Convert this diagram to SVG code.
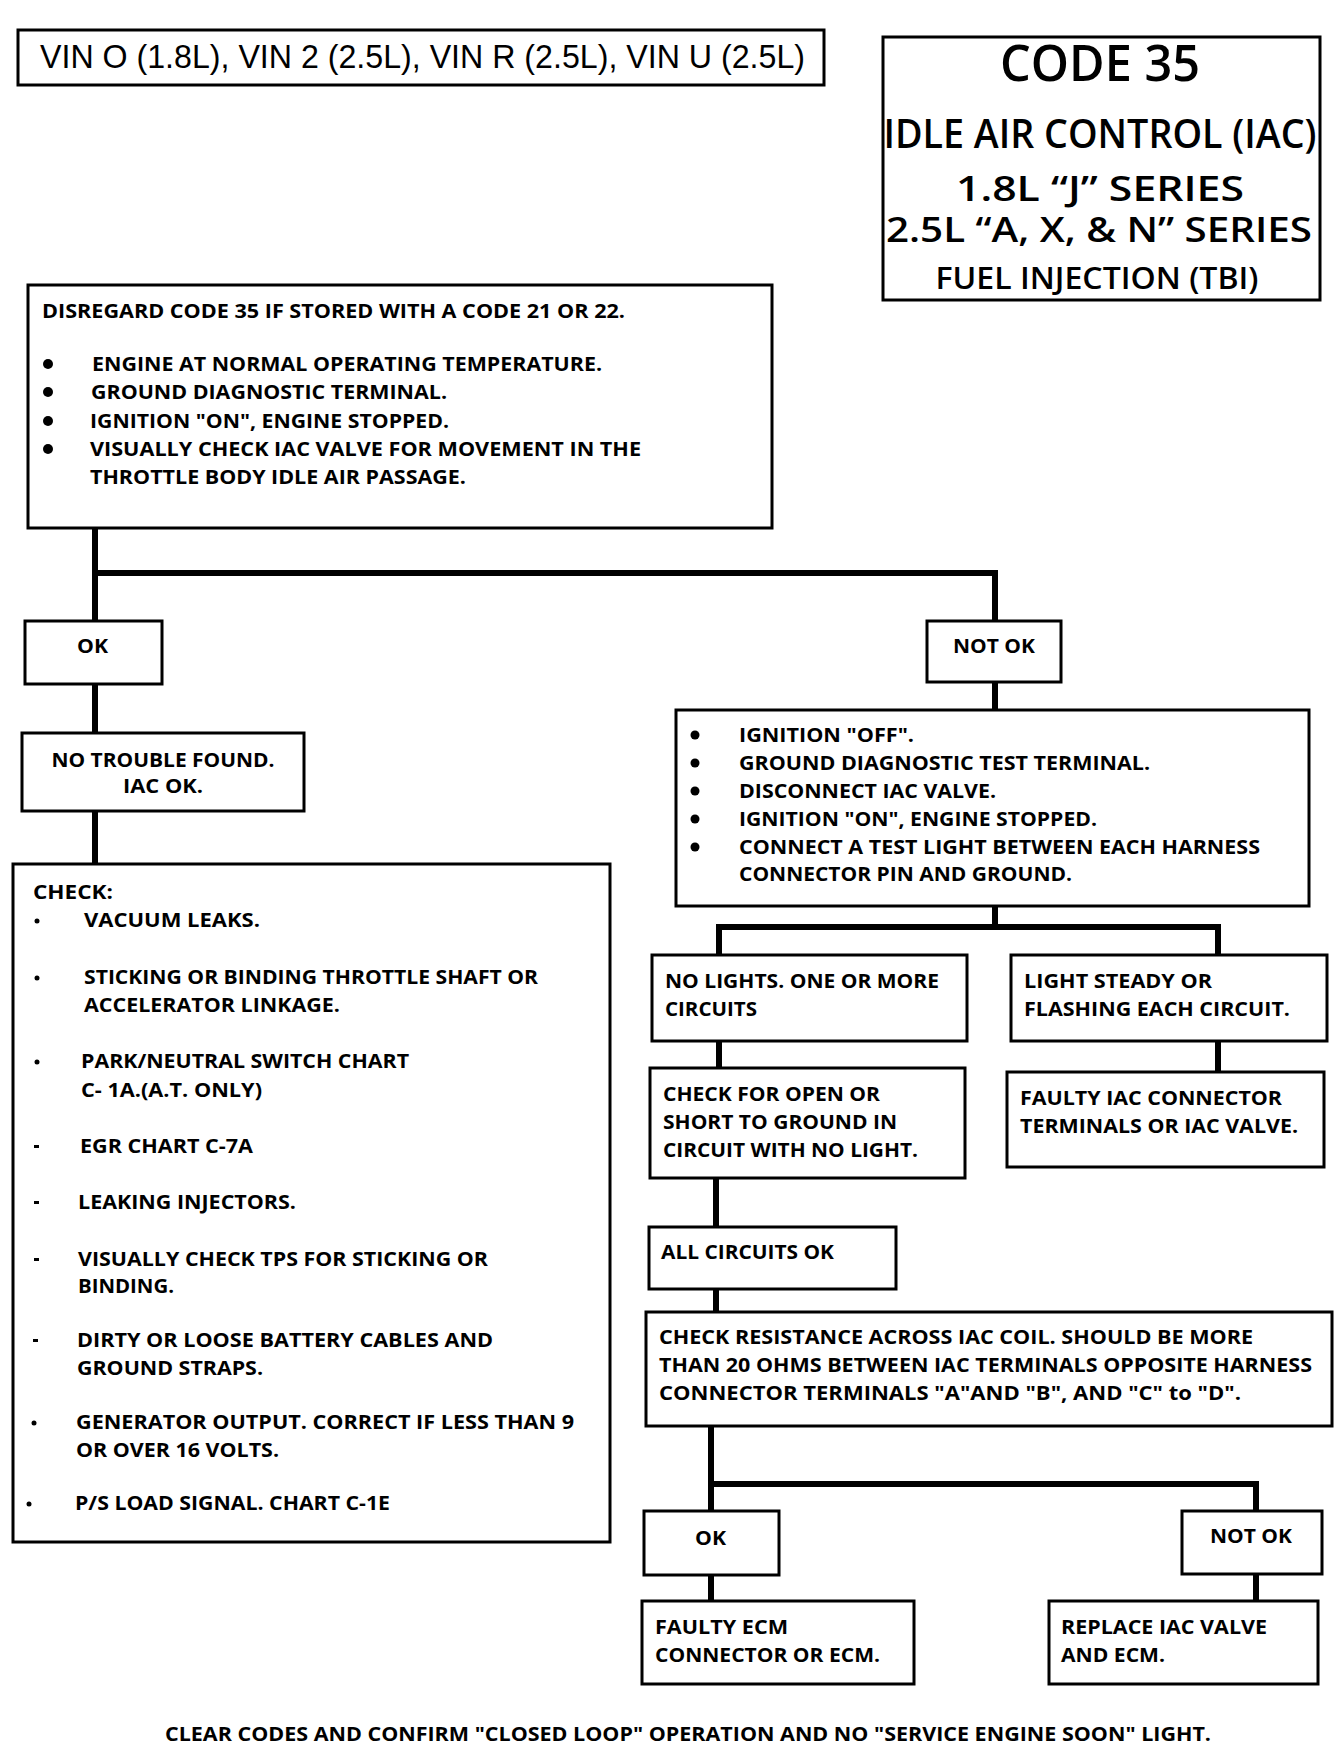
<svg xmlns="http://www.w3.org/2000/svg" width="1344" height="1748" viewBox="0 0 1344 1748">
<style>
.bg{fill:#fff}
.box{fill:#fff;stroke:#000;stroke-width:3}
.con{fill:none;stroke:#000;stroke-width:6;stroke-linecap:square}
.t{font-family:"Open Sans","Noto Sans","DejaVu Sans",sans-serif;font-weight:700;font-size:20px;fill:#000}
.h{font-family:"Open Sans","Noto Sans","DejaVu Sans",sans-serif;font-weight:600;fill:#000}
.vin{font-family:"Liberation Sans",Arial,sans-serif;font-size:33px;fill:#000}
.dot{fill:#000}
</style>
<rect class="bg" x="0" y="0" width="1344" height="1748"/>

<g id="connectors">
<path class="con" d="M95 528 V621 M95 573 H995 V621"/>
<path class="con" d="M95 684 V733"/>
<path class="con" d="M95 811 V864"/>
<path class="con" d="M995 682 V710"/>
<path class="con" d="M995 906 V927 M719 955 V927 H1218 V955"/>
<path class="con" d="M719 1041 V1068"/>
<path class="con" d="M1218 1041 V1072"/>
<path class="con" d="M716 1178 V1227"/>
<path class="con" d="M716 1289 V1312"/>
<path class="con" d="M711 1426 V1511 M711 1484 H1256 V1511"/>
<path class="con" d="M711 1575 V1601"/>
<path class="con" d="M1256 1574 V1601"/>
</g>

<g id="vin">
<rect class="box" x="18" y="30" width="806" height="55"/>
<text class="vin" x="40" y="68" textLength="765" lengthAdjust="spacingAndGlyphs">VIN O (1.8L), VIN 2 (2.5L), VIN R (2.5L), VIN U (2.5L)</text>
</g>

<g id="title">
<rect class="box" x="883" y="37" width="437" height="263"/>
<text class="h" x="1100" y="81" font-size="50" text-anchor="middle" textLength="200" lengthAdjust="spacingAndGlyphs">CODE 35</text>
<text class="h" x="1100" y="148" font-size="39" text-anchor="middle" textLength="433" lengthAdjust="spacingAndGlyphs">IDLE AIR CONTROL (IAC)</text>
<text class="h" x="1100" y="201" font-size="35" text-anchor="middle" textLength="288" lengthAdjust="spacingAndGlyphs">1.8L  “J”  SERIES</text>
<text class="h" x="1099" y="242" font-size="35" text-anchor="middle" textLength="426" lengthAdjust="spacingAndGlyphs">2.5L  “A, X, &amp; N” SERIES</text>
<text class="h" x="1097" y="289" font-size="31" text-anchor="middle" textLength="323" lengthAdjust="spacingAndGlyphs">FUEL INJECTION (TBI)</text>
</g>

<g id="start">
<rect class="box" x="28" y="285" width="744" height="243"/>
<text class="t" x="42" y="318" textLength="583" lengthAdjust="spacingAndGlyphs">DISREGARD CODE 35 IF STORED WITH A CODE 21 OR 22.</text>
<circle class="dot" cx="48" cy="364" r="5"/>
<circle class="dot" cx="48" cy="392" r="5"/>
<circle class="dot" cx="48" cy="421" r="5"/>
<circle class="dot" cx="48" cy="449" r="5"/>
<text class="t" x="92" y="371" textLength="510" lengthAdjust="spacingAndGlyphs">ENGINE AT NORMAL OPERATING TEMPERATURE.</text>
<text class="t" x="91" y="399" textLength="356" lengthAdjust="spacingAndGlyphs">GROUND DIAGNOSTIC TERMINAL.</text>
<text class="t" x="90" y="428" textLength="359" lengthAdjust="spacingAndGlyphs">IGNITION "ON", ENGINE STOPPED.</text>
<text class="t" x="90" y="456" textLength="551" lengthAdjust="spacingAndGlyphs">VISUALLY CHECK IAC VALVE FOR MOVEMENT IN THE</text>
<text class="t" x="90" y="484" textLength="376" lengthAdjust="spacingAndGlyphs">THROTTLE BODY IDLE AIR PASSAGE.</text>
</g>

<g id="ok1">
<rect class="box" x="25" y="621" width="137" height="63"/>
<text class="t" x="77" y="653" textLength="31" lengthAdjust="spacingAndGlyphs">OK</text>
</g>

<g id="notok1">
<rect class="box" x="927" y="621" width="134" height="61"/>
<text class="t" x="953" y="653" textLength="82" lengthAdjust="spacingAndGlyphs">NOT OK</text>
</g>

<g id="notrouble">
<rect class="box" x="22" y="733" width="282" height="78"/>
<text class="t" x="163" y="767" text-anchor="middle" textLength="223" lengthAdjust="spacingAndGlyphs">NO TROUBLE FOUND.</text>
<text class="t" x="163" y="793" text-anchor="middle" textLength="80" lengthAdjust="spacingAndGlyphs">IAC OK.</text>
</g>

<g id="check">
<rect class="box" x="13" y="864" width="597" height="678"/>
<text class="t" x="33" y="899" textLength="80" lengthAdjust="spacingAndGlyphs">CHECK:</text>
<circle class="dot" cx="37" cy="921" r="2.5"/>
<text class="t" x="84" y="927" textLength="176" lengthAdjust="spacingAndGlyphs">VACUUM LEAKS.</text>
<circle class="dot" cx="37" cy="978" r="2.5"/>
<text class="t" x="84" y="984" textLength="454" lengthAdjust="spacingAndGlyphs">STICKING OR BINDING THROTTLE SHAFT OR</text>
<text class="t" x="84" y="1012" textLength="256" lengthAdjust="spacingAndGlyphs">ACCELERATOR LINKAGE.</text>
<circle class="dot" cx="37" cy="1062" r="2.5"/>
<text class="t" x="81" y="1068" textLength="328" lengthAdjust="spacingAndGlyphs">PARK/NEUTRAL SWITCH CHART</text>
<text class="t" x="81" y="1097" textLength="181" lengthAdjust="spacingAndGlyphs">C- 1A.(A.T. ONLY)</text>
<rect class="dot" x="34" y="1145" width="5" height="3"/>
<text class="t" x="80" y="1153" textLength="173" lengthAdjust="spacingAndGlyphs">EGR CHART C-7A</text>
<rect class="dot" x="34" y="1201" width="5" height="3"/>
<text class="t" x="78" y="1209" textLength="218" lengthAdjust="spacingAndGlyphs">LEAKING INJECTORS.</text>
<rect class="dot" x="34" y="1258" width="5" height="3"/>
<text class="t" x="78" y="1266" textLength="410" lengthAdjust="spacingAndGlyphs">VISUALLY CHECK TPS FOR STICKING OR</text>
<text class="t" x="78" y="1293" textLength="96" lengthAdjust="spacingAndGlyphs">BINDING.</text>
<rect class="dot" x="33" y="1339" width="5" height="3"/>
<text class="t" x="77" y="1347" textLength="416" lengthAdjust="spacingAndGlyphs">DIRTY OR LOOSE BATTERY CABLES AND</text>
<text class="t" x="77" y="1375" textLength="186" lengthAdjust="spacingAndGlyphs">GROUND STRAPS.</text>
<circle class="dot" cx="34" cy="1423" r="2.5"/>
<text class="t" x="76" y="1429" textLength="498" lengthAdjust="spacingAndGlyphs">GENERATOR OUTPUT.  CORRECT IF LESS THAN 9</text>
<text class="t" x="76" y="1457" textLength="203" lengthAdjust="spacingAndGlyphs">OR OVER 16 VOLTS.</text>
<circle class="dot" cx="29" cy="1504" r="2.5"/>
<text class="t" x="75" y="1510" textLength="315" lengthAdjust="spacingAndGlyphs">P/S LOAD SIGNAL. CHART C-1E</text>
</g>

<g id="steps">
<rect class="box" x="676" y="710" width="633" height="196"/>
<circle class="dot" cx="695" cy="735" r="4.5"/>
<circle class="dot" cx="695" cy="763" r="4.5"/>
<circle class="dot" cx="695" cy="791" r="4.5"/>
<circle class="dot" cx="695" cy="819" r="4.5"/>
<circle class="dot" cx="695" cy="847" r="4.5"/>
<text class="t" x="739" y="742" textLength="175" lengthAdjust="spacingAndGlyphs">IGNITION "OFF".</text>
<text class="t" x="739" y="770" textLength="411" lengthAdjust="spacingAndGlyphs">GROUND DIAGNOSTIC TEST TERMINAL.</text>
<text class="t" x="739" y="798" textLength="257" lengthAdjust="spacingAndGlyphs">DISCONNECT IAC VALVE.</text>
<text class="t" x="739" y="826" textLength="358" lengthAdjust="spacingAndGlyphs">IGNITION "ON", ENGINE STOPPED.</text>
<text class="t" x="739" y="854" textLength="521" lengthAdjust="spacingAndGlyphs">CONNECT A TEST LIGHT BETWEEN EACH HARNESS</text>
<text class="t" x="739" y="881" textLength="333" lengthAdjust="spacingAndGlyphs">CONNECTOR PIN AND GROUND.</text>
</g>

<g id="nolights">
<rect class="box" x="652" y="955" width="315" height="86"/>
<text class="t" x="665" y="988" textLength="274" lengthAdjust="spacingAndGlyphs">NO LIGHTS. ONE OR MORE</text>
<text class="t" x="665" y="1016" textLength="92" lengthAdjust="spacingAndGlyphs">CIRCUITS</text>
</g>

<g id="lightsteady">
<rect class="box" x="1011" y="955" width="316" height="86"/>
<text class="t" x="1024" y="988" textLength="188" lengthAdjust="spacingAndGlyphs">LIGHT STEADY OR</text>
<text class="t" x="1024" y="1016" textLength="266" lengthAdjust="spacingAndGlyphs">FLASHING  EACH CIRCUIT.</text>
</g>

<g id="checkopen">
<rect class="box" x="650" y="1068" width="315" height="110"/>
<text class="t" x="663" y="1101" textLength="217" lengthAdjust="spacingAndGlyphs">CHECK FOR OPEN OR</text>
<text class="t" x="663" y="1129" textLength="234" lengthAdjust="spacingAndGlyphs">SHORT TO GROUND IN</text>
<text class="t" x="663" y="1157" textLength="255" lengthAdjust="spacingAndGlyphs">CIRCUIT WITH NO LIGHT.</text>
</g>

<g id="faultyiac">
<rect class="box" x="1007" y="1072" width="317" height="95"/>
<text class="t" x="1020" y="1105" textLength="262" lengthAdjust="spacingAndGlyphs">FAULTY IAC CONNECTOR</text>
<text class="t" x="1020" y="1133" textLength="278" lengthAdjust="spacingAndGlyphs">TERMINALS OR IAC VALVE.</text>
</g>

<g id="allok">
<rect class="box" x="649" y="1227" width="247" height="62"/>
<text class="t" x="661" y="1259" textLength="173" lengthAdjust="spacingAndGlyphs">ALL CIRCUITS OK</text>
</g>

<g id="resistance">
<rect class="box" x="646" y="1312" width="686" height="114"/>
<text class="t" x="659" y="1344" textLength="594" lengthAdjust="spacingAndGlyphs">CHECK RESISTANCE ACROSS IAC COIL. SHOULD BE MORE</text>
<text class="t" x="659" y="1372" textLength="653" lengthAdjust="spacingAndGlyphs">THAN 20 OHMS BETWEEN IAC TERMINALS OPPOSITE HARNESS</text>
<text class="t" x="659" y="1400" textLength="582" lengthAdjust="spacingAndGlyphs">CONNECTOR TERMINALS "A"AND "B", AND "C" to "D".</text>
</g>

<g id="ok2">
<rect class="box" x="644" y="1511" width="135" height="64"/>
<text class="t" x="695" y="1545" textLength="31" lengthAdjust="spacingAndGlyphs">OK</text>
</g>

<g id="notok2">
<rect class="box" x="1182" y="1511" width="140" height="63"/>
<text class="t" x="1210" y="1543" textLength="82" lengthAdjust="spacingAndGlyphs">NOT OK</text>
</g>

<g id="faultyecm">
<rect class="box" x="642" y="1601" width="272" height="83"/>
<text class="t" x="655" y="1634" textLength="133" lengthAdjust="spacingAndGlyphs">FAULTY ECM</text>
<text class="t" x="655" y="1662" textLength="225" lengthAdjust="spacingAndGlyphs">CONNECTOR OR ECM.</text>
</g>

<g id="replace">
<rect class="box" x="1049" y="1601" width="269" height="83"/>
<text class="t" x="1061" y="1634" textLength="206" lengthAdjust="spacingAndGlyphs">REPLACE IAC VALVE</text>
<text class="t" x="1061" y="1662" textLength="104" lengthAdjust="spacingAndGlyphs">AND ECM.</text>
</g>

<g id="footer">
<text class="t" x="165" y="1741" font-size="19" textLength="1046" lengthAdjust="spacingAndGlyphs">CLEAR CODES AND CONFIRM "CLOSED LOOP" OPERATION AND NO "SERVICE ENGINE SOON" LIGHT.</text>
</g>
</svg>
